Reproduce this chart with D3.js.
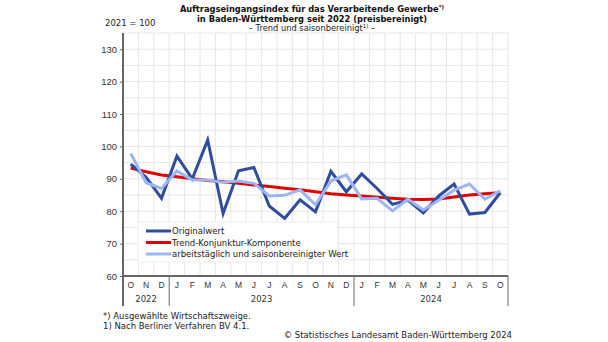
<!DOCTYPE html>
<html>
<head>
<meta charset="utf-8">
<script src="https://cdn.jsdelivr.net/npm/d3@7"></script>
<style>
  body { margin: 0; background: #fff; }
  svg { font-family: "DejaVu Sans", Verdana, sans-serif; }
</style>
</head>
<body>
<svg id="chart" width="608" height="342"></svg>
<script>
// months Oct 2022 .. Oct 2024
var months = ["O","N","D","J","F","M","A","M","J","J","A","S","O","N","D","J","F","M","A","M","J","J","A","S","O"];
var yearLabels = ["2022", "2023", "2024"];
var yearMonthCounts = [3, 12, 10];
var yTicks = [60, 70, 80, 90, 100, 110, 120, 130];

var original = [94.5, 90.5, 84, 97, 90, 102, 79.3, 92.5, 93.5, 81.6, 77.8, 83.5, 79.8, 92.3, 86, 91.5, 87, 82.1, 83.4, 79.5, 84.7, 88.4, 79.1, 79.6, 85.7];
var trend = [93.3, 92.2, 91.2, 90.6, 90.0, 89.5, 89.1, 88.6, 88.1, 87.6, 87.1, 86.6, 86.0, 85.4, 85.0, 84.7, 84.3, 84.0, 83.7, 83.6, 83.8, 84.4, 85.0, 85.4, 85.7];
var adjusted = [97.8, 88.8, 87, 92.4, 89.6, 89.6, 88.9, 89.3, 88.6, 84.7, 84.9, 86.6, 82, 89.3, 91.2, 83.8, 84, 80.1, 83.7, 80.4, 83.4, 86.5, 88.4, 83.7, 86.3];

var seriesNames = ["Originalwert", "Trend-Konjunktur-Komponente", "arbeitstäglich und saisonbereinigter Wert"];
var seriesColors = ["#2e4d9e", "#e00000", "#9db6f2"];

var svg = d3.select("#chart");
var pLeft = 123, pRight = 508, pTop = 33, pBottom = 276;

var x = d3.scaleBand()
    .domain(d3.range(months.length))
    .range([pLeft, pRight])
    .padding(0);

var y = d3.scaleLinear()
    .domain([60, 135])
    .range([pBottom, pTop]);

// grid
var grid = svg.append("g").attr("class", "grid");
grid.selectAll("line.h")
    .data(d3.range(60, 136, 5))
    .enter().append("line")
    .attr("x1", pLeft).attr("x2", pRight)
    .attr("y1", function(d){ return y(d); })
    .attr("y2", function(d){ return y(d); })
    .attr("stroke", "#e6e6e6").attr("stroke-width", 1);
grid.selectAll("line.v")
    .data(d3.range(months.length + 1))
    .enter().append("line")
    .attr("x1", function(d){ return pLeft + d * x.step(); })
    .attr("x2", function(d){ return pLeft + d * x.step(); })
    .attr("y1", pTop).attr("y2", pBottom)
    .attr("stroke", "#e6e6e6").attr("stroke-width", 1);

// y axis
var yAxis = svg.append("g")
    .attr("transform", "translate(" + pLeft + ",0)")
    .call(d3.axisLeft(y).tickValues(yTicks).tickSize(3).tickPadding(3));
yAxis.select(".domain").attr("stroke", "#666").attr("stroke-width", 2)
    .attr("d", "M0," + pTop + "V" + pBottom);
yAxis.selectAll(".tick line").attr("stroke", "#666");
yAxis.selectAll("text").attr("fill", "#333").style("font-size", "9.5px");

// lines
var line = d3.line()
    .x(function(d, i){ return x(i) + x.bandwidth() / 2; })
    .y(function(d){ return y(d); });

var drawOrder = [[trend, 1], [original, 0], [adjusted, 2]];
drawOrder.forEach(function(p){
  svg.append("path")
    .datum(p[0])
    .attr("d", line)
    .attr("fill", "none")
    .attr("stroke", seriesColors[p[1]])
    .attr("stroke-width", 3)
    .attr("stroke-linejoin", "miter");
});

// x axis
var xAxis = svg.append("g")
    .attr("transform", "translate(0," + pBottom + ")")
    .call(d3.axisBottom(x).tickSize(0).tickPadding(6)
      .tickFormat(function(i){ return months[i]; }));
xAxis.select(".domain").attr("stroke", "#666").attr("stroke-width", 2)
    .attr("d", "M" + pLeft + ",0H" + pRight);
xAxis.selectAll("text").attr("fill", "#333").style("font-size", "8.5px");

// year separators and labels
var cum = 0;
var bounds = [0];
yearMonthCounts.forEach(function(c){ cum += c; bounds.push(cum); });
svg.selectAll("line.sep")
    .data(bounds)
    .enter().append("line")
    .attr("x1", function(d){ return pLeft + d * x.step(); })
    .attr("x2", function(d){ return pLeft + d * x.step(); })
    .attr("y1", pBottom).attr("y2", 306)
    .attr("stroke", "#666").attr("stroke-width", function(d, i){ return i === 0 ? 2 : 1; });
svg.selectAll("text.year")
    .data(yearLabels)
    .enter().append("text")
    .attr("x", function(d, i){ return pLeft + (bounds[i] + bounds[i + 1]) / 2 * x.step(); })
    .attr("y", 302)
    .attr("text-anchor", "middle")
    .attr("fill", "#333")
    .style("font-size", "8.5px")
    .text(function(d){ return d; });

// legend
var lg = svg.append("g").attr("transform", "translate(138,222)");
lg.append("rect").attr("width", 200).attr("height", 40)
    .attr("fill", "#fff").attr("stroke", "#eeeeee");
seriesNames.forEach(function(n, i){
  var ly = 9 + i * 11.5;
  lg.append("line").attr("x1", 8).attr("x2", 33).attr("y1", ly).attr("y2", ly)
    .attr("stroke", seriesColors[i]).attr("stroke-width", 3);
  lg.append("text").attr("x", 34).attr("y", ly + 3)
    .attr("fill", "#222").style("font-size", "8.5px").text(n);
});

// titles
var t = svg.append("text").attr("x", 312).attr("text-anchor", "middle")
    .attr("fill", "#111").style("font-size", "8.3px").style("font-weight", "bold");
t.append("tspan").attr("x", 312).attr("y", 12).text("Auftragseingangsindex für das Verarbeitende Gewerbe")
  .append("tspan").attr("dy", -3).style("font-size", "5.5px").text("*)");
t.append("tspan").attr("x", 312).attr("y", 22).text("in Baden-Württemberg seit 2022 (preisbereinigt)");
var st = svg.append("text").attr("x", 312).attr("y", 31).attr("text-anchor", "middle")
    .attr("fill", "#222").style("font-size", "8.3px");
st.append("tspan").text("– Trend und saisonbereinigt");
st.append("tspan").attr("dy", -3).style("font-size", "5.5px").text("1)");
st.append("tspan").attr("dy", 3).text(" –");

svg.append("text").attr("x", 105).attr("y", 26).attr("fill", "#222")
    .style("font-size", "8.5px").text("2021 = 100");

// footnotes
svg.append("text").attr("x", 103).attr("y", 319).attr("fill", "#222")
    .style("font-size", "8.5px").text("*) Ausgewählte Wirtschaftszweige.");
svg.append("text").attr("x", 103).attr("y", 329).attr("fill", "#222")
    .style("font-size", "8.5px").text("1) Nach Berliner Verfahren BV 4.1.");
svg.append("text").attr("x", 512).attr("y", 338).attr("text-anchor", "end").attr("fill", "#222")
    .style("font-size", "8.5px").text("© Statistisches Landesamt Baden-Württemberg 2024");
</script>
</body>
</html>
